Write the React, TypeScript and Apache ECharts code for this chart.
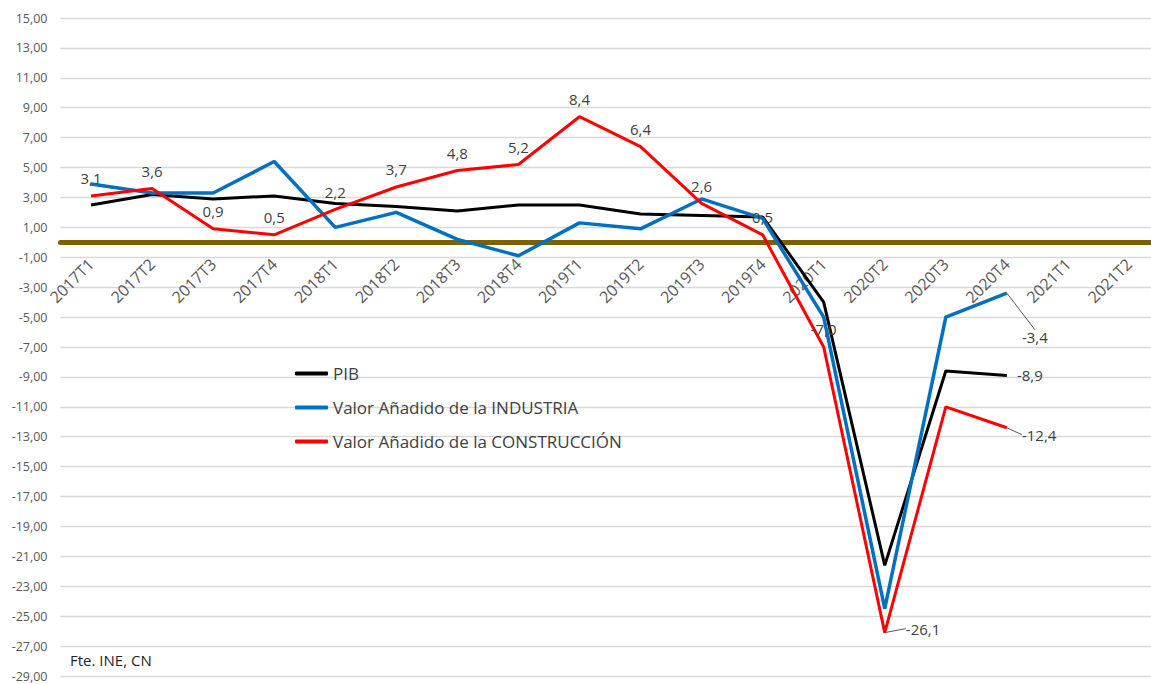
import React, { useEffect, useRef } from "react";
import * as echarts from "echarts";

// Quarterly year-on-year change (%), Spain
const quarters = [
  "2017T1", "2017T2", "2017T3", "2017T4",
  "2018T1", "2018T2", "2018T3", "2018T4",
  "2019T1", "2019T2", "2019T3", "2019T4",
  "2020T1", "2020T2", "2020T3", "2020T4",
  "2021T1", "2021T2",
];

const pib = [2.5, 3.2, 2.9, 3.1, 2.6, 2.4, 2.1, 2.5, 2.5, 1.9, 1.8, 1.7, -4.0, -21.6, -8.6, -8.9, null, null];
const industria = [3.9, 3.3, 3.3, 5.4, 1.0, 2.0, 0.2, -0.9, 1.3, 0.9, 2.9, 1.6, -5.0, -24.5, -5.0, -3.4, null, null];
const construccion = [3.1, 3.6, 0.9, 0.5, 2.2, 3.7, 4.8, 5.2, 8.4, 6.4, 2.6, 0.5, -7.0, -26.1, -11.0, -12.4, null, null];

// Value-axis labels (odd steps)
const yTicks = [15, 13, 11, 9, 7, 5, 3, 1, -1, -3, -5, -7, -9, -11, -13, -15, -17, -19, -21, -23, -25, -27, -29];
const Y_MIN = -29;
const Y_MAX = 15;

const seriesNames = ["PIB", "Valor Añadido de la INDUSTRIA", "Valor Añadido de la CONSTRUCCIÓN"];
const seriesColors = ["#000000", "#0070c0", "#ff0000"];

const FONT = "'Open Sans', 'Liberation Sans', sans-serif";
const LAST = quarters.indexOf("2020T4");
const TROUGH = quarters.indexOf("2020T2");
const noLabel = ["2020T3"];

const GRID_TOP = 18;
const GRID_HEIGHT = 658;

const fmt1 = (v: number) => v.toFixed(1).replace(".", ",");

export default function App() {
  const ref = useRef<HTMLDivElement>(null);

  useEffect(() => {
    if (!ref.current) return;
    const chart = echarts.init(ref.current, null, { renderer: "svg" });

    const labelText = { color: "#404040", fontSize: 15, fontFamily: FONT };
    const leader = { show: true, length2: 0, lineStyle: { color: "#595959", width: 1 } };

    // Category axis sits on the zero line: shift it up from the bottom edge
    const zeroShift = -(GRID_HEIGHT * (0 - Y_MIN)) / (Y_MAX - Y_MIN);

    const pibData = pib.map((v, i) =>
      i === LAST
        ? { value: v, label: { show: true, position: "right", distance: 10, ...labelText, formatter: () => fmt1(v as number) } }
        : v
    );

    const industriaData = industria.map((v, i) =>
      i === LAST
        ? {
            value: v,
            label: { show: true, position: "right", distance: 5, ...labelText, formatter: () => fmt1(v as number) },
            labelLine: leader,
          }
        : v
    );

    const constructionData = construccion.map((v, i) => {
      if (v === null) return v;
      if (i === LAST || i === TROUGH) {
        return {
          value: v,
          label: { show: true, position: "right", distance: 5, ...labelText, formatter: () => fmt1(v) },
          labelLine: leader,
        };
      }
      return {
        value: v,
        label: {
          show: !noLabel.includes(quarters[i]),
          position: "top",
          distance: 10,
          ...labelText,
          formatter: () => fmt1(v),
        },
      };
    });

    // Invisible point symbols so that the point labels get drawn
    const hiddenSymbol = { symbol: "circle", symbolSize: 0.1, showSymbol: true };

    chart.setOption({
      animation: false,
      backgroundColor: "#ffffff",
      textStyle: { fontFamily: FONT },
      grid: { left: 60.5, top: GRID_TOP, width: 1099, height: GRID_HEIGHT, containLabel: false, outerBoundsMode: "none" },
      legend: {
        orient: "vertical",
        left: 295,
        top: 365,
        itemWidth: 33,
        itemHeight: 4,
        itemGap: 17,
        icon: "roundRect",
        padding: 0,
        data: seriesNames,
        textStyle: { color: "#404040", fontSize: 17, fontFamily: FONT },
      },
      xAxis: {
        type: "category",
        data: quarters,
        boundaryGap: true,
        position: "bottom",
        offset: zeroShift,
        axisLine: { onZero: false, lineStyle: { color: "#7f6000", width: 5 } },
        axisTick: { show: false },
        axisLabel: { rotate: 45, margin: 19, color: "#595959", fontSize: 16, fontFamily: FONT, interval: 0 },
        splitLine: { show: false },
      },
      yAxis: {
        type: "value",
        min: Y_MIN,
        max: Y_MAX,
        interval: 1,
        axisLine: { show: false },
        axisTick: { show: false },
        axisLabel: {
          margin: 13,
          color: "#595959",
          fontSize: 12.5,
          fontFamily: FONT,
          formatter: (v: number) => (yTicks.includes(v) ? v.toFixed(2).replace(".", ",") : ""),
        },
        splitLine: { show: true, lineStyle: { color: ["#d9d9d9", "rgba(0,0,0,0)"], width: 1.3 } },
      },
      graphic: [
        {
          type: "text",
          left: 70,
          top: 652,
          style: { text: "Fte. INE, CN", fill: "#262626", fontSize: 15, fontFamily: FONT },
        },
      ],
      series: [
        {
          name: seriesNames[0],
          type: "line",
          data: pibData,
          ...hiddenSymbol,
          lineStyle: { color: seriesColors[0], width: 3 },
          itemStyle: { color: seriesColors[0] },
          z: 3,
        },
        {
          name: seriesNames[1],
          type: "line",
          data: industriaData,
          ...hiddenSymbol,
          lineStyle: { color: seriesColors[1], width: 3.5 },
          itemStyle: { color: seriesColors[1] },
          labelLayout: (p: any) => (p.dataIndex === LAST ? { dx: 10, dy: 44 } : {}),
          z: 4,
        },
        {
          name: seriesNames[2],
          type: "line",
          data: constructionData,
          ...hiddenSymbol,
          lineStyle: { color: seriesColors[2], width: 3 },
          itemStyle: { color: seriesColors[2] },
          labelLayout: (p: any) =>
            p.dataIndex === LAST ? { dx: 10, dy: 7 } : p.dataIndex === TROUGH ? { dx: 16, dy: -4 } : {},
          z: 5,
        },
      ],
    });

    return () => chart.dispose();
  }, []);

  return (
    <div
      ref={ref}
      style={{ position: "fixed", left: 0, top: 0, width: 1151, height: 684, background: "#fff" }}
    />
  );
}
